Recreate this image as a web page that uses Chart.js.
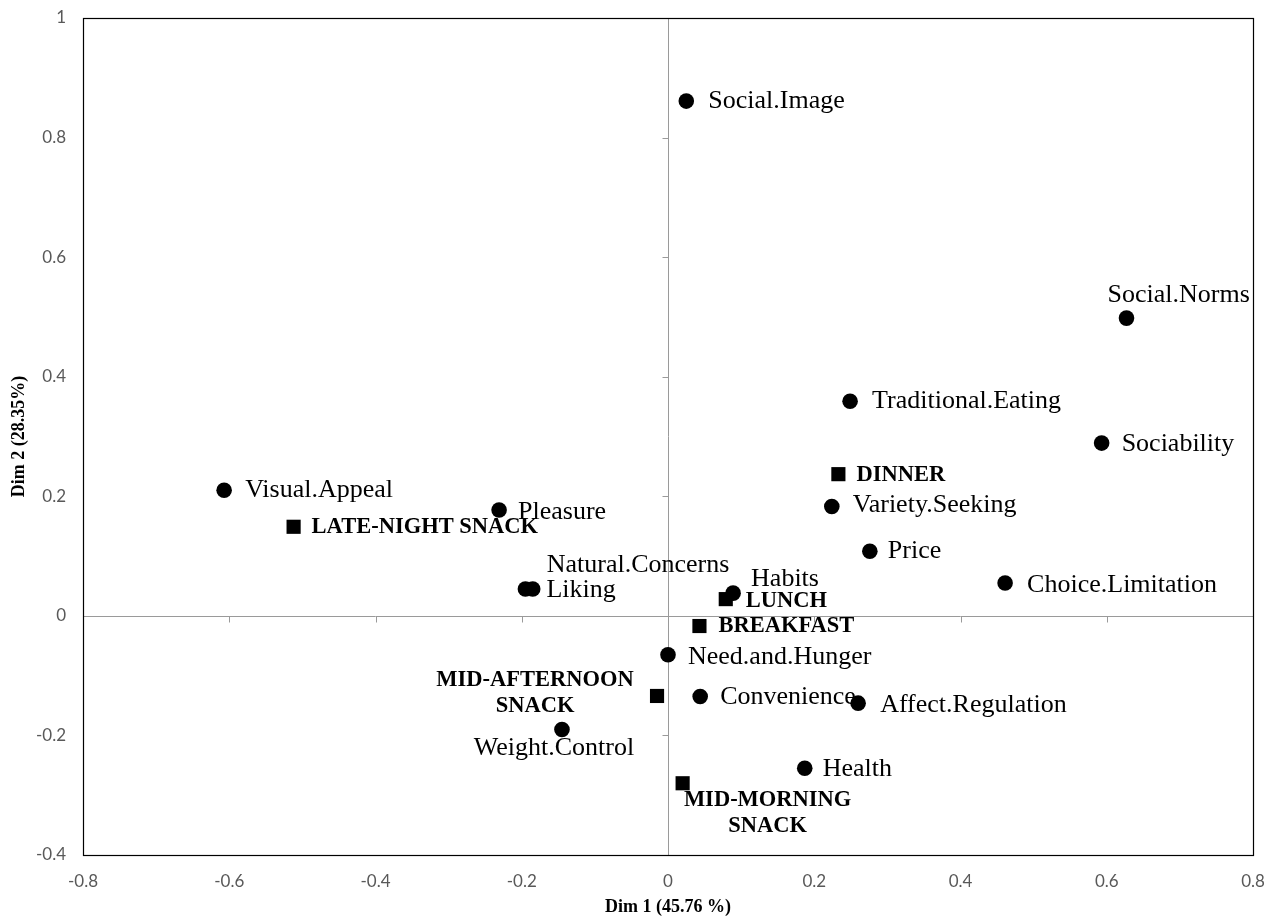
<!DOCTYPE html>
<html>
<head>
<meta charset="utf-8">
<title>Correspondence analysis: eating motives by meal</title>
<script src="https://cdn.jsdelivr.net/npm/chart.js@4.4.1/dist/chart.umd.min.js"></script>
<style>
  html, body { margin: 0; padding: 0; background: #ffffff; }
  #wrap { width: 1277px; height: 919px; }
</style>
</head>
<body>
<div id="wrap"><canvas id="ca" width="1277" height="919"></canvas></div>
<script>
// Eating motives (row points)
const motiveNames = [
  'Social.Image', 'Social.Norms', 'Traditional.Eating', 'Sociability',
  'Visual.Appeal', 'Pleasure', 'Variety.Seeking', 'Price',
  'Choice.Limitation', 'Liking', 'Natural.Concerns', 'Habits',
  'Need.and.Hunger', 'Convenience', 'Affect.Regulation', 'Weight.Control',
  'Health'
];
const motiveDim1 = [
  0.025, 0.627, 0.249, 0.593,
  -0.607, -0.231, 0.224, 0.276,
  0.461, -0.195, -0.185, 0.089,
  0.000, 0.044, 0.260, -0.145,
  0.187
];
const motiveDim2 = [
  0.861, 0.498, 0.359, 0.289,
  0.210, 0.177, 0.183, 0.108,
  0.055, 0.045, 0.045, 0.038,
  -0.065, -0.135, -0.146, -0.190,
  -0.255
];

// Eating occasions (column points)
const mealNames = [
  'DINNER', 'LATE-NIGHT SNACK', 'LUNCH', 'BREAKFAST',
  'MID-AFTERNOON SNACK', 'MID-MORNING SNACK'
];
const mealDim1 = [0.233, -0.512, 0.079, 0.043, -0.015, 0.020];
const mealDim2 = [0.237, 0.149, 0.028, -0.017, -0.134, -0.280];

// Axis ranges and tick labels
const xTickLabels = ['-0.8', '-0.6', '-0.4', '-0.2', '0', '0.2', '0.4', '0.6', '0.8'];
const yTickLabels = ['-0.4', '-0.2', '0', '0.2', '0.4', '0.6', '0.8', '1'];
const xTitle = 'Dim 1 (45.76 %)';
const yTitle = 'Dim 2 (28.35%)';

// Label placement relative to each marker (pixels)
const motiveLabelPos = {
  'Social.Image':       { dx: 22, dy: 0 },
  'Social.Norms':       { dx: -19, dy: -23 },
  'Traditional.Eating': { dx: 22, dy: 0 },
  'Sociability':        { dx: 20, dy: 1 },
  'Visual.Appeal':      { dx: 21, dy: 0 },
  'Pleasure':           { dx: 19, dy: 2 },
  'Variety.Seeking':    { dx: 21, dy: -1 },
  'Price':              { dx: 18, dy: 0 },
  'Choice.Limitation':  { dx: 22, dy: 2 },
  'Liking':             { dx: 21, dy: 1 },
  'Natural.Concerns':   { dx: 14, dy: -24 },
  'Habits':             { dx: 18, dy: -14 },
  'Need.and.Hunger':    { dx: 20, dy: 2 },
  'Convenience':        { dx: 20, dy: 1 },
  'Affect.Regulation':  { dx: 22, dy: 2 },
  'Weight.Control':     { dx: -8, dy: 19, align: 'center' },
  'Health':             { dx: 18, dy: 1 }
};
const mealLabelPos = {
  'DINNER':              { dx: 18, dy: 1 },
  'LATE-NIGHT SNACK':    { dx: 18, dy: 0 },
  'LUNCH':               { dx: 20, dy: 2 },
  'BREAKFAST':           { dx: 19, dy: 0 },
  'MID-AFTERNOON SNACK': { dx: -122, dy: -16, align: 'center', wrap: true },
  'MID-MORNING SNACK':   { dx: 85, dy: 17, align: 'center', wrap: true }
};

const SERIF = '"Liberation Serif", "Times New Roman", serif';
const TICK_FONT = { family: 'Lato, "Liberation Sans", sans-serif', size: 17 };

function toPoints(xs, ys) {
  return xs.map((x, i) => ({ x: x, y: ys[i] }));
}
function fmtTick(v, labels) {
  const s = String(Math.round(v * 10) / 10);
  return labels.includes(s) ? s : '';
}

// Zero axes with small tick marks, drawn underneath the markers
const zeroAxes = {
  id: 'zeroAxes',
  beforeDatasetsDraw(chart) {
    const { ctx, chartArea: a, scales: { x, y } } = chart;
    const x0 = Math.round(x.getPixelForValue(0)) + 0.5;
    const y0 = Math.round(y.getPixelForValue(0)) + 0.5;
    ctx.save();
    ctx.strokeStyle = '#9a9a9a';
    ctx.lineWidth = 1;
    ctx.beginPath();
    ctx.moveTo(x0, a.top); ctx.lineTo(x0, a.bottom);
    ctx.moveTo(a.left, y0); ctx.lineTo(a.right, y0);
    yTickLabels.forEach(t => {
      const py = Math.round(y.getPixelForValue(parseFloat(t))) + 0.5;
      ctx.moveTo(x0 - 6, py); ctx.lineTo(x0, py);
    });
    xTickLabels.forEach(t => {
      const px = Math.round(x.getPixelForValue(parseFloat(t))) + 0.5;
      ctx.moveTo(px, y0); ctx.lineTo(px, y0 + 6);
    });
    ctx.stroke();
    ctx.restore();
  }
};

// Plot frame, point labels and axis titles
const annotate = {
  id: 'annotate',
  afterDatasetsDraw(chart) {
    const { ctx, chartArea: a, scales: { x, y } } = chart;
    ctx.save();
    ctx.strokeStyle = '#000000';
    ctx.lineWidth = 1.2;
    ctx.strokeRect(Math.round(a.left) + 0.5, Math.round(a.top) + 0.5,
                   Math.round(a.right - a.left), Math.round(a.bottom - a.top));

    ctx.fillStyle = '#000000';
    ctx.textBaseline = 'middle';

    function drawLabel(name, px, py, pos, font) {
      ctx.font = font;
      ctx.textAlign = pos.align || 'left';
      const lines = pos.wrap ? name.split(' ') : [name];
      lines.forEach((ln, k) => {
        ctx.fillText(ln, px + pos.dx, py + pos.dy + k * 26);
      });
    }

    motiveNames.forEach((n, i) => {
      drawLabel(n, x.getPixelForValue(motiveDim1[i]), y.getPixelForValue(motiveDim2[i]),
                motiveLabelPos[n], '26px ' + SERIF);
    });
    mealNames.forEach((n, i) => {
      drawLabel(n, x.getPixelForValue(mealDim1[i]), y.getPixelForValue(mealDim2[i]),
                mealLabelPos[n], 'bold 22.5px ' + SERIF);
    });

    // axis titles
    ctx.font = 'bold 18px ' + SERIF;
    ctx.textAlign = 'center';
    ctx.fillText(xTitle, (a.left + a.right) / 2, 907);
    ctx.translate(19, (a.top + a.bottom) / 2);
    ctx.rotate(-Math.PI / 2);
    ctx.fillText(yTitle, 0, 0);
    ctx.restore();
  }
};

new Chart(document.getElementById('ca'), {
  type: 'scatter',
  data: {
    datasets: [
      {
        label: 'Motives',
        data: toPoints(motiveDim1, motiveDim2),
        pointStyle: 'circle',
        pointRadius: 7.8,
        pointHoverRadius: 7.8,
        backgroundColor: '#000000',
        borderColor: '#000000',
        borderWidth: 0
      },
      {
        label: 'Meals',
        data: toPoints(mealDim1, mealDim2),
        pointStyle: 'rect',
        pointRadius: 10,
        pointHoverRadius: 10,
        backgroundColor: '#000000',
        borderColor: '#000000',
        borderWidth: 0
      }
    ]
  },
  options: {
    responsive: false,
    animation: false,
    devicePixelRatio: 1,
    layout: { padding: { top: 18, right: 24, left: 0, bottom: 0 } },
    plugins: {
      legend: { display: false },
      tooltip: { enabled: false },
      title: { display: false }
    },
    scales: {
      x: {
        type: 'linear',
        min: -0.8, max: 0.8,
        grid: { display: false, drawTicks: false },
        border: { display: false },
        ticks: {
          stepSize: 0.2,
          padding: 16,
          color: '#595959',
          font: TICK_FONT,
          maxRotation: 0,
          autoSkip: false,
          callback: v => fmtTick(v, xTickLabels)
        },
        afterFit(scale) {
          scale.height = 64;
          scale.paddingLeft = 0;
          scale.paddingRight = 0;
        }
      },
      y: {
        type: 'linear',
        min: -0.4, max: 1,
        grid: { display: false, drawTicks: false },
        border: { display: false },
        ticks: {
          stepSize: 0.2,
          padding: 17,
          color: '#595959',
          font: TICK_FONT,
          autoSkip: false,
          callback: v => fmtTick(v, yTickLabels)
        },
        afterFit(scale) {
          scale.width = 83;
          scale.paddingTop = 0;
          scale.paddingBottom = 0;
        }
      }
    }
  },
  plugins: [zeroAxes, annotate]
});
</script>
</body>
</html>
